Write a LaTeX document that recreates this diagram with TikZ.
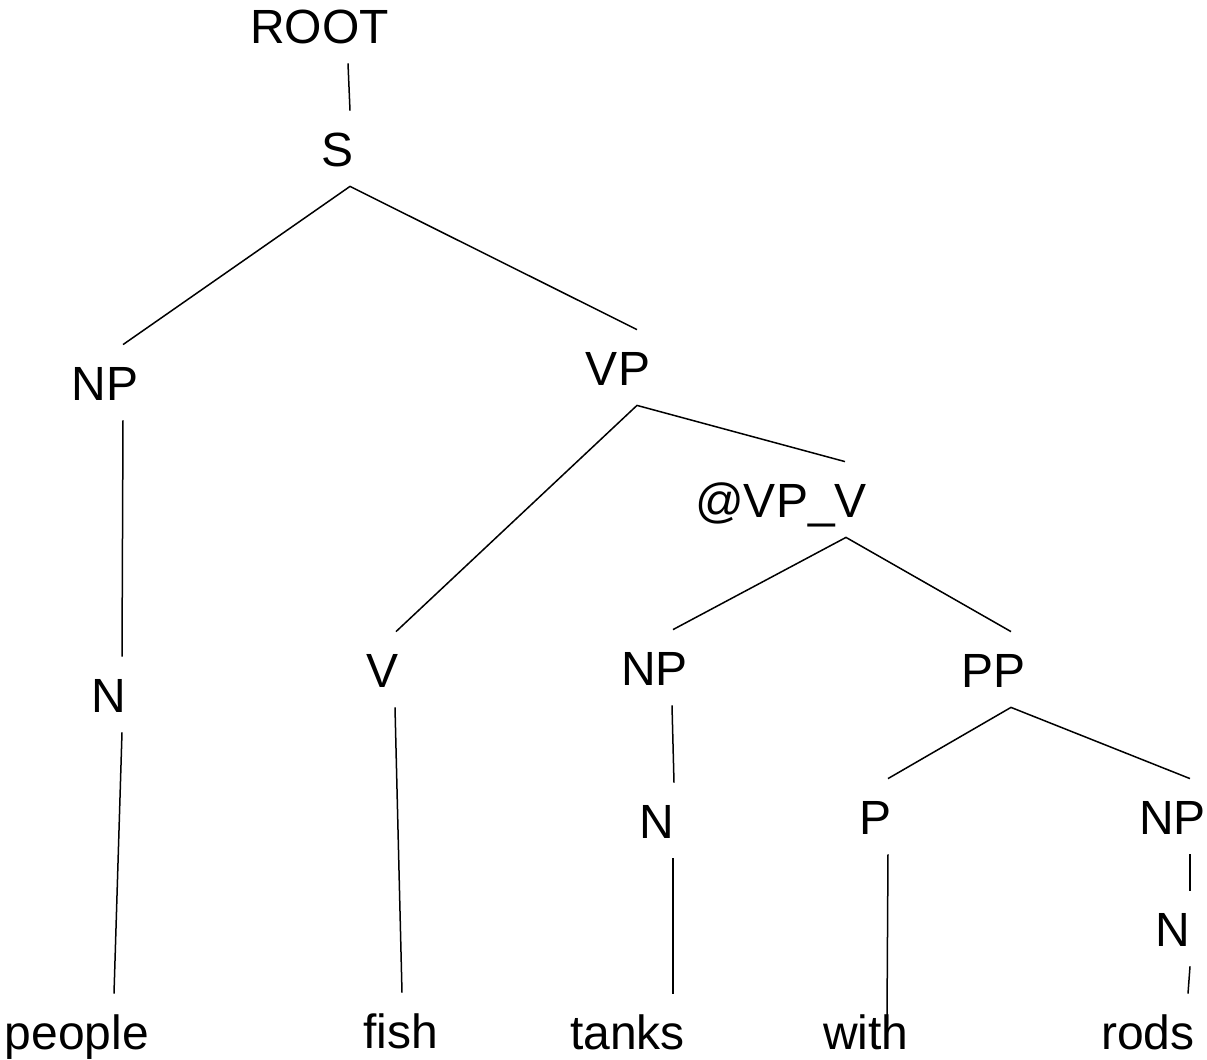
\documentclass[tikz,border=0pt]{standalone}
\usepackage{fontspec}
\setmainfont{Liberation Sans}
\begin{document}
\begin{tikzpicture}[
    x=0.5pt, y=-0.5pt,
    cat/.style={anchor=base, inner xsep=0pt, inner ysep=10pt,
      text height=17.5pt, text depth=0pt, font=\fontsize{24}{28}\selectfont},
    word/.style={cat, inner ysep=0pt, text height=27.5pt},
    branch/.style={line width=0.75pt}
  ]
  \useasboundingbox (0,0) rectangle (1207,1060);
  % categories
  \node[cat] (root) at (319.5,43) {ROOT};
  \node[cat] (s) at (337.5,166) {S};
  \node[cat] (np1) at (105,400) {NP};
  \node[cat] (vp) at (618,385) {VP};
  \node[cat] (n1) at (109,712) {N};
  \node[cat] (v) at (382.5,687) {V};
  \node[cat] (vpv) at (781,517) {@VP\_V};
  \node[cat] (np2) at (654.5,685) {NP};
  \node[cat] (pp) at (993.5,687) {PP};
  \node[cat] (n2) at (657,838) {N};
  \node[cat] (p) at (876,834) {P};
  \node[cat] (np3) at (1172.5,834) {NP};
  \node[cat] (n3) at (1172.5,946) {N};
  % words
  \node[word] (people) at (77,1049) {people};
  \node[word] (fish) at (401,1048) {fish};
  \node[word] (tanks) at (627.5,1049) {tanks};
  \node[word] (with) at (866,1049) {with};
  \node[word] (rods) at (1148,1049) {rods};
  % branches
  \draw[branch] ([xshift=14.25pt]root.south) -- ([xshift=6.25pt]s.north);
  \draw[branch] ([xshift=9pt]np1.north) -- ([xshift=6.25pt]s.south) -- ([xshift=9.5pt]vp.north);
  \draw[branch] ([xshift=9pt]np1.south) -- ([xshift=6.5pt]n1.north);
  \draw[branch] ([xshift=6.5pt]n1.south) -- ([xshift=18.5pt]people.north);
  \draw[branch] ([xshift=6.75pt]v.north) -- ([xshift=9.5pt]vp.south) -- ([xshift=32pt]vpv.north);
  \draw[branch] ([xshift=6.25pt]v.south) -- ([xshift=0.5pt]fish.north);
  \draw[branch] ([xshift=9.25pt]np2.north) -- ([xshift=32.5pt]vpv.south) -- ([xshift=8.75pt]pp.north);
  \draw[branch] ([xshift=8.75pt]np2.south) -- ([xshift=8.5pt]n2.north);
  \draw[branch] ([xshift=8pt]n2.south) -- ([xshift=22.75pt]tanks.north);
  \draw[branch] ([xshift=6pt]p.north) -- ([xshift=8.75pt]pp.south) -- ([xshift=8.75pt]np3.north);
  \draw[branch] ([xshift=6pt]p.south) -- ([xshift=10.5pt,yshift=-12.5pt]with.north);
  \draw[branch] ([xshift=8.75pt]np3.south) -- ([xshift=8.75pt]n3.north);
  \draw[branch] ([xshift=8.75pt]n3.south) -- ([xshift=20pt]rods.north);
\end{tikzpicture}
\end{document}
